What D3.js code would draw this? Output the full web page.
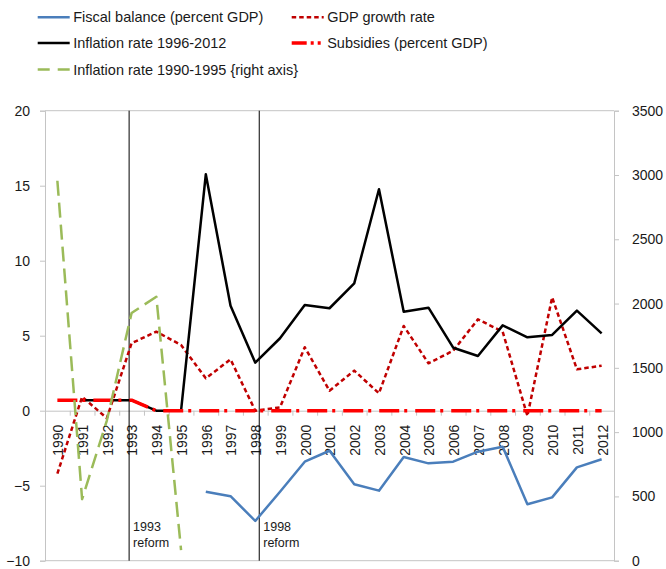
<!DOCTYPE html>
<html><head><meta charset="utf-8">
<script src="https://cdn.jsdelivr.net/npm/d3@7/dist/d3.min.js"></script>
<style>body{margin:0;background:#fff}svg{display:block}</style>
</head><body>
<svg id="chart" width="666" height="569"></svg>
<script>
// ---------------- data ----------------
const years = [1990,1991,1992,1993,1994,1995,1996,1997,1998,1999,2000,2001,2002,2003,2004,2005,2006,2007,2008,2009,2010,2011,2012];
const fiscalBalance = [null,null,null,null,null,null,-5.4,-5.7,-7.35,-5.4,-3.4,-2.67,-4.9,-5.33,-3.09,-3.51,-3.4,-2.73,-2.4,-6.24,-5.78,-3.78,-3.24];
const gdpGrowth = [-4.2,0.93,-0.5,4.5,5.27,4.38,2.16,3.42,0.0,0.22,4.23,1.33,2.67,1.16,5.65,3.16,4.0,6.09,5.27,-0.35,7.56,2.76,3.0];
const inflation9612 = [null,0.7,0.7,0.7,0,0,15.76,7.0,3.2,4.83,7.05,6.83,8.49,14.76,6.6,6.87,4.2,3.65,5.69,4.89,5.05,6.67,5.16];
const subsidies = [0.7,0.7,0.7,0.7,0,0,0,0,0,0,0,0,0,0,0,0,0,0,0,0,0,0,0];
const inflation9095 = [2955,478,1090,1927,2053,83,null,null,null,null,null,null,null,null,null,null,null,null,null,null,null,null,null];
const leftTicks = [20,15,10,5,0,-5,-10];
const rightTicks = [3500,3000,2500,2000,1500,1000,500,0];
const reforms = [{year:1992.9, label:["1993","reform"]},{year:1998.16, label:["1998","reform"]}];
const legendItems = [
  {name:"Fiscal balance (percent GDP)", key:"fiscal"},
  {name:"GDP growth rate", key:"gdp"},
  {name:"Inflation rate 1996-2012", key:"inf"},
  {name:"Subsidies (percent GDP)", key:"sub"},
  {name:"Inflation rate 1990-1995 {right axis}", key:"inf2"}
];

// ---------------- styles ----------------
const styles = {
  fiscal:{color:"#4a7ebb", width:2.5, dash:null},
  gdp:{color:"#c00000", width:2.5, dash:"4.5,3"},
  inf:{color:"#000000", width:2.5, dash:null},
  sub:{color:"#ff0000", width:3.5, dash:"20,5,3,8"},
  inf2:{color:"#9bbb59", width:2.5, dash:"15,7"}
};

const svg = d3.select("#chart");
const L = 45, R = 614, T = 110.7, B = 560.7;
const axisColor = "#c4c4c4";
const tickFont = "'Liberation Sans', Arial, sans-serif";
const legFont = "'Liberation Sans Narrow', 'Liberation Sans', sans-serif";

const x = d3.scaleLinear().domain([1989.5, 2012.5]).range([L, R]);
const yL = d3.scaleLinear().domain([-10, 20]).range([B, T]);
const yR = d3.scaleLinear().domain([0, 3500]).range([B, T]);

// frame lines
svg.append("line").attr("x1",L).attr("x2",R).attr("y1",yL(20)).attr("y2",yL(20)).attr("stroke",axisColor);
svg.append("line").attr("x1",L).attr("x2",R).attr("y1",yL(-10)).attr("y2",yL(-10)).attr("stroke",axisColor);

// left axis
const leftAxis = svg.append("g").attr("transform",`translate(${L},0)`)
  .call(d3.axisLeft(yL).tickValues(leftTicks).tickSize(5).tickPadding(10).tickFormat(d3.format("d")));
// right axis
const rightAxis = svg.append("g").attr("transform",`translate(${R},0)`)
  .call(d3.axisRight(yR).tickValues(rightTicks).tickSize(5).tickPadding(13).tickFormat(d3.format("d")));
[leftAxis, rightAxis].forEach(g => {
  g.select(".domain").attr("stroke",axisColor);
  g.selectAll(".tick line").attr("stroke",axisColor);
  g.selectAll(".tick text").attr("fill","#1a1a1a").style("font-family",tickFont).style("font-size","14px");
});

// x axis at zero
const boundaries = d3.range(1989.5, 2013, 1);
const xAxis = svg.append("g").attr("transform",`translate(0,${yL(0)})`)
  .call(d3.axisBottom(x).tickValues(boundaries).tickSize(5).tickSizeOuter(0).tickFormat(""));
xAxis.select(".domain").attr("stroke",axisColor);
xAxis.selectAll(".tick line").attr("stroke",axisColor);
svg.append("g").selectAll("text").data(years).join("text")
  .attr("transform", d => `translate(${x(d)+1},${yL(0)+14}) rotate(-90)`)
  .attr("text-anchor","end").attr("dy","0.35em")
  .style("font-family",tickFont).style("font-size","14px").attr("fill","#1a1a1a")
  .text(d => d);

// reform lines
const rg = svg.append("g");
reforms.forEach(r => {
  rg.append("line").attr("x1",x(r.year)).attr("x2",x(r.year)).attr("y1",T).attr("y2",B)
    .attr("stroke","#000").attr("stroke-width",1);
  r.label.forEach((t,i) => {
    rg.append("text").attr("x",x(r.year)+4).attr("y",yL(-7.7) + i*16.5).attr("dy","0.35em")
      .style("font-family",tickFont).style("font-size","12.5px").attr("fill","#1a1a1a").text(t);
  });
});

// series
function drawSeries(values, scale, st) {
  const line = d3.line().defined(d => d[1] != null).x(d => x(d[0])).y(d => scale(d[1]));
  const p = svg.append("path").datum(years.map((yr,i) => [yr, values[i]]))
    .attr("d", line).attr("fill","none").attr("stroke",st.color).attr("stroke-width",st.width)
    .attr("stroke-linejoin","round");
  if (st.dash) p.attr("stroke-dasharray", st.dash);
}
drawSeries(fiscalBalance, yL, styles.fiscal);
drawSeries(gdpGrowth, yL, styles.gdp);
drawSeries(inflation9612, yL, styles.inf);
drawSeries(subsidies, yL, styles.sub);
drawSeries(inflation9095, yR, styles.inf2);

// legend
const legPos = [[37.7,17.3],[291.7,17.3],[37.7,43],[291.7,43],[37.7,69.5]];
legendItems.forEach((it,i) => {
  const [lx, ly] = legPos[i];
  const st = styles[it.key];
  const ln = svg.append("line").attr("x1",lx).attr("x2",lx+32).attr("y1",ly).attr("y2",ly)
    .attr("stroke",st.color).attr("stroke-width",st.width);
  if (st.dash) ln.attr("stroke-dasharray", it.key === "sub" ? "15,4,3,4,3,4" : (it.key==="inf2" ? "12,8" : st.dash));
  svg.append("text").attr("x",lx+35.5).attr("y",ly).attr("dy","0.35em")
    .style("font-family",legFont).style("font-size","14.5px").attr("fill","#1a1a1a").text(it.name);
});
</script>
</body></html>
